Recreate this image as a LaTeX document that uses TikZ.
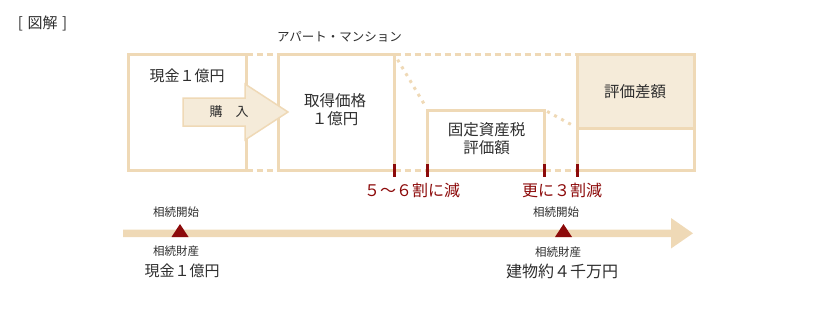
\documentclass[tikz,border=0pt]{standalone}
\usepackage{fontspec}
\setmainfont{Noto Sans CJK JP}
\definecolor{boxline}{HTML}{EFD9B6}
\definecolor{boxfill}{HTML}{F5EBD9}
\definecolor{redc}{HTML}{8C0A0A}
\definecolor{txt}{HTML}{2E2E2E}
\begin{document}
\begin{tikzpicture}[x=1pt,y=-1pt,
  box/.style={draw=boxline, line width=3pt, inner sep=0pt, outer sep=0pt},
  lbl/.style={text=txt, inner sep=0pt, align=center},
  redlbl/.style={text=redc, inner sep=0pt, align=center},
  dashc/.style={draw=boxline, line width=3pt, dash pattern=on 6pt off 4pt},
  dotc/.style={draw=boxline, line width=3pt, dash pattern=on 3pt off 5pt},
  redtick/.style={draw=redc, line width=3pt},
  sz/.style={font=\fontsize{#1}{#1}\selectfont}
]
\useasboundingbox (0,0) rectangle (840,313);
% boxes
\node[box, minimum width=118pt, minimum height=115.5pt] (b1) at (187.5,112.25) {};
\node[box, minimum width=116.5pt, minimum height=115.5pt] (b2) at (336.25,112.25) {};
\node[box, minimum width=116.8pt, minimum height=60pt] (b3) at (486.1,140) {};
\node[box, fill=boxfill, minimum width=116.5pt, minimum height=73.5pt] (b4a) at (635.75,91.25) {};
\node[box, minimum width=116.5pt, minimum height=42pt] (b4b) at (635.75,149) {};
% dashed links
\draw[dashc] (b1.north east) -- (b2.north west);
\draw[dashc] (b2.north east) -- (b4a.north west);
\draw[dashc] (b1.south east) -- (b2.south west);
\draw[dashc] (b2.south east) -- (b3.south west);
\draw[dashc] (b3.south east) -- (b4b.south west);
% dotted diagonals
\draw[dotc, shorten <=6pt, shorten >=5pt] (b2.north east) -- (b3.north west);
\draw[dotc, shorten <=3pt, shorten >=3pt] (b3.north east) -- (b4a.south west);
% red ticks
\draw[redtick] (b2.south east) ++(0,-6) -- ++(0,13);
\draw[redtick] (b3.south west) ++(0,-6) -- ++(0,13);
\draw[redtick] (b3.south east) ++(0,-6) -- ++(0,13);
\draw[redtick] (b4b.south west) ++(0,-6) -- ++(0,13);
% purchase arrow
\draw[draw=boxline, fill=boxfill, line width=1.5pt, line join=miter]
  (183,98) -- (245,98) -- (245,84) -- (288,112) -- (245,140) -- (245,126) -- (183,126) -- cycle;
% timeline
\fill[boxline] (123,229.5) -- (671,229.5) -- (671,218) -- (693,233.3) -- (671,248.5) -- (671,237) -- (123,237) -- cycle;
\fill[redc] (171.5,237) -- (180,224) -- (188.5,237) -- cycle;
\fill[redc] (555,237) -- (563.5,224) -- (572,237) -- cycle;
% texts
\node[lbl, sz=15] (title) at (42.5,23.5) {[\hspace{4.5pt}図解\hspace{4.5pt}]};
\node[lbl, sz=12.5] (apt) at (339.5,37) {アパート・マンション};
\node[lbl, sz=15] (t1) at (187,75.5) {現金１億円};
\node[lbl, sz=13] (buy) at (229,112) {購　入};
\node[lbl, font=\fontsize{15.5}{17.5}\selectfont] (t2) at (335,109.5) {取得価格\\１億円};
\node[lbl, font=\fontsize{15.5}{18}\selectfont] (t3) at (486.5,139) {固定資産税\\評価額};
\node[lbl, sz=15.5] (t4) at (635,91.5) {評価差額};
\node[redlbl, sz=16] (r1) at (412,190.5) {５～６割に減};
\node[redlbl, sz=16] (r2) at (562,190.5) {更に３割減};
\node[lbl, sz=11.5] (s1) at (176,212.5) {相続開始};
\node[lbl, sz=11.5] (s2) at (176,251) {相続財産};
\node[lbl, sz=15] (c1) at (182,271) {現金１億円};
\node[lbl, sz=11.5] (s3) at (556,212.5) {相続開始};
\node[lbl, sz=11.5] (s4) at (558,252) {相続財産};
\node[lbl, sz=16] (c2) at (562,271) {建物約４千万円};
\end{tikzpicture}
\end{document}
